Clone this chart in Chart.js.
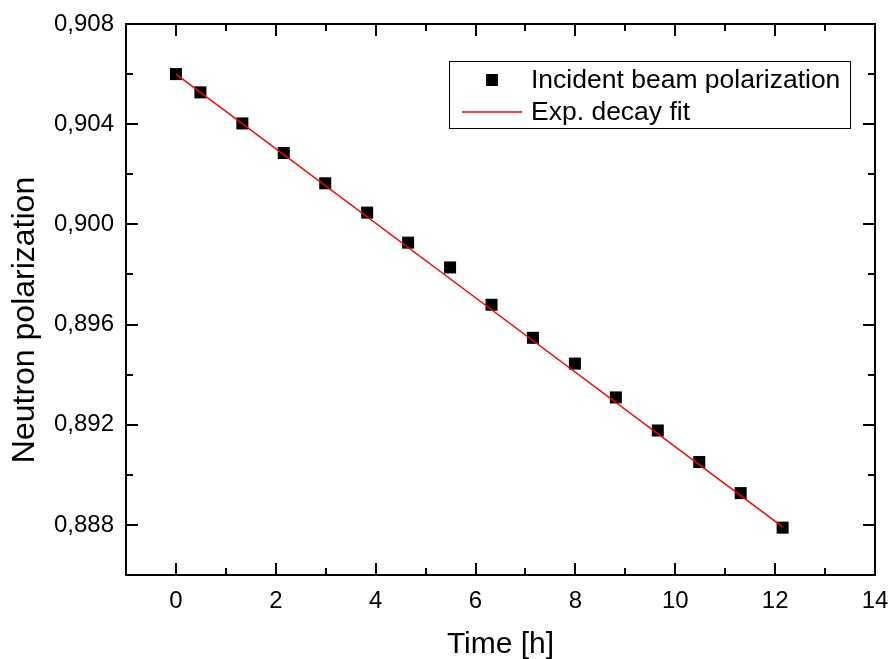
<!DOCTYPE html>
<html>
<head>
<meta charset="utf-8">
<script src="https://cdn.jsdelivr.net/npm/chart.js@4.4.1/dist/chart.umd.min.js"></script>
<style>
  html, body { margin: 0; padding: 0; background: #fff; }
  #wrap { width: 889px; height: 659px; }
</style>
</head>
<body>
<div id="wrap"><canvas id="chart" width="889" height="659"></canvas></div>
<script>
// measured polarization vs time
const timeHours = [0, 0.49, 1.33, 2.16, 2.99, 3.83, 4.65, 5.49, 6.32, 7.15, 7.99, 8.81, 9.65, 10.48, 11.31, 12.15];
const polarization = [0.90600, 0.90527, 0.90403, 0.90285, 0.90164, 0.90047, 0.89927, 0.89828, 0.89679, 0.89547, 0.89444, 0.89309, 0.89177, 0.89051, 0.88927, 0.88789];

// exp. decay fit curve
const fitTime = [0, 6, 12.15];
const fitPolarization = [0.90600, 0.89707, 0.88792];

const seriesLabels = ["Incident beam polarization", "Exp. decay fit"];
const xTitle = "Time [h]";
const yTitle = "Neutron polarization";

const xTicks = [0, 2, 4, 6, 8, 10, 12, 14];
const xMinorTicks = [-1, 1, 3, 5, 7, 9, 11, 13];
const yTicks = [0.888, 0.892, 0.896, 0.900, 0.904, 0.908];
const yTickLabels = ["0,888", "0,892", "0,896", "0,900", "0,904", "0,908"];
const yMinorTicks = [0.886, 0.890, 0.894, 0.898, 0.902, 0.906];

const FONT = "'Liberation Sans', Arial, sans-serif";

const framePlugin = {
  id: "frame",
  afterDraw(chart) {
    const { ctx, chartArea: a, scales } = chart;
    const x = scales.x, y = scales.y;
    ctx.save();
    ctx.strokeStyle = "#000";
    ctx.lineWidth = 2;
    ctx.strokeRect(a.left, a.top, a.right - a.left, a.bottom - a.top);

    ctx.beginPath();
    const xt = (v, len) => {
      const px = Math.round(x.getPixelForValue(v));
      ctx.moveTo(px, a.bottom); ctx.lineTo(px, a.bottom - len);
      ctx.moveTo(px, a.top); ctx.lineTo(px, a.top + len);
    };
    const yt = (v, len) => {
      const py = Math.round(y.getPixelForValue(v));
      ctx.moveTo(a.left, py); ctx.lineTo(a.left + len, py);
      ctx.moveTo(a.right, py); ctx.lineTo(a.right - len, py);
    };
    xTicks.forEach(v => xt(v, 12));
    xMinorTicks.forEach(v => xt(v, 7));
    yTicks.forEach(v => yt(v, 12));
    yMinorTicks.forEach(v => yt(v, 7));
    ctx.stroke();

    // axis titles
    ctx.fillStyle = "#000";
    ctx.textAlign = "center";
    ctx.textBaseline = "alphabetic";
    ctx.font = "30px " + FONT;
    ctx.fillText(xTitle, (a.left + a.right) / 2, 653);
    ctx.font = "32px " + FONT;
    ctx.translate(34, 320);
    ctx.rotate(-Math.PI / 2);
    ctx.fillText(yTitle, 0, 0);
    ctx.restore();

    // legend box
    const ds = chart.data.datasets;
    ctx.save();
    ctx.strokeStyle = "#000";
    ctx.lineWidth = 1;
    ctx.strokeRect(449.5, 61.5, 401, 67);
    ctx.fillStyle = ds[1].backgroundColor;
    ctx.fillRect(486, 74, 12, 12);
    ctx.strokeStyle = ds[0].borderColor;
    ctx.lineWidth = ds[0].borderWidth;
    ctx.beginPath();
    ctx.moveTo(462, 112); ctx.lineTo(522, 112);
    ctx.stroke();
    ctx.fillStyle = "#000";
    ctx.font = "26.5px " + FONT;
    ctx.textAlign = "left";
    ctx.textBaseline = "middle";
    ctx.fillText(ds[1].label, 531, 81);
    ctx.fillText(ds[0].label, 531, 113);
    ctx.restore();
  }
};

new Chart(document.getElementById("chart"), {
  type: "scatter",
  data: {
    datasets: [
      {
        label: seriesLabels[1],
        type: "line",
        data: fitTime.map((t, i) => ({ x: t, y: fitPolarization[i] })),
        borderColor: "#ff0000",
        borderWidth: 1.5,
        pointRadius: 0,
        fill: false,
        tension: 0,
        order: 0
      },
      {
        label: seriesLabels[0],
        data: timeHours.map((t, i) => ({ x: t, y: polarization[i] })),
        pointStyle: "rect",
        pointRadius: 8.5,
        pointHoverRadius: 8.5,
        backgroundColor: "#000",
        borderColor: "#000",
        borderWidth: 0,
        order: 1
      }
    ]
  },
  options: {
    responsive: false,
    animation: false,
    layout: { autoPadding: false, padding: { top: 24, right: 14, left: 0, bottom: 0 } },
    plugins: {
      legend: { display: false },
      tooltip: { enabled: false }
    },
    scales: {
      x: {
        type: "linear",
        min: -1,
        max: 14,
        grid: { display: false },
        border: { display: false },
        afterBuildTicks: s => { s.ticks = xTicks.map(v => ({ value: v })); },
        afterFit: s => { s.height = 84; s.paddingLeft = 0; s.paddingRight = 0; },
        ticks: {
          color: "#000",
          font: { family: FONT, size: 24 },
          padding: 4,
          maxRotation: 0,
          autoSkip: false
        }
      },
      y: {
        type: "linear",
        min: 0.886,
        max: 0.908,
        grid: { display: false },
        border: { display: false },
        afterBuildTicks: s => { s.ticks = yTicks.map(v => ({ value: v })); },
        afterFit: s => { s.width = 126; s.paddingTop = 0; s.paddingBottom = 0; },
        ticks: {
          color: "#000",
          font: { family: FONT, size: 24 },
          padding: 4,
          autoSkip: false,
          callback: (v, i) => yTickLabels[i]
        }
      }
    }
  },
  plugins: [framePlugin]
});
</script>
</body>
</html>
